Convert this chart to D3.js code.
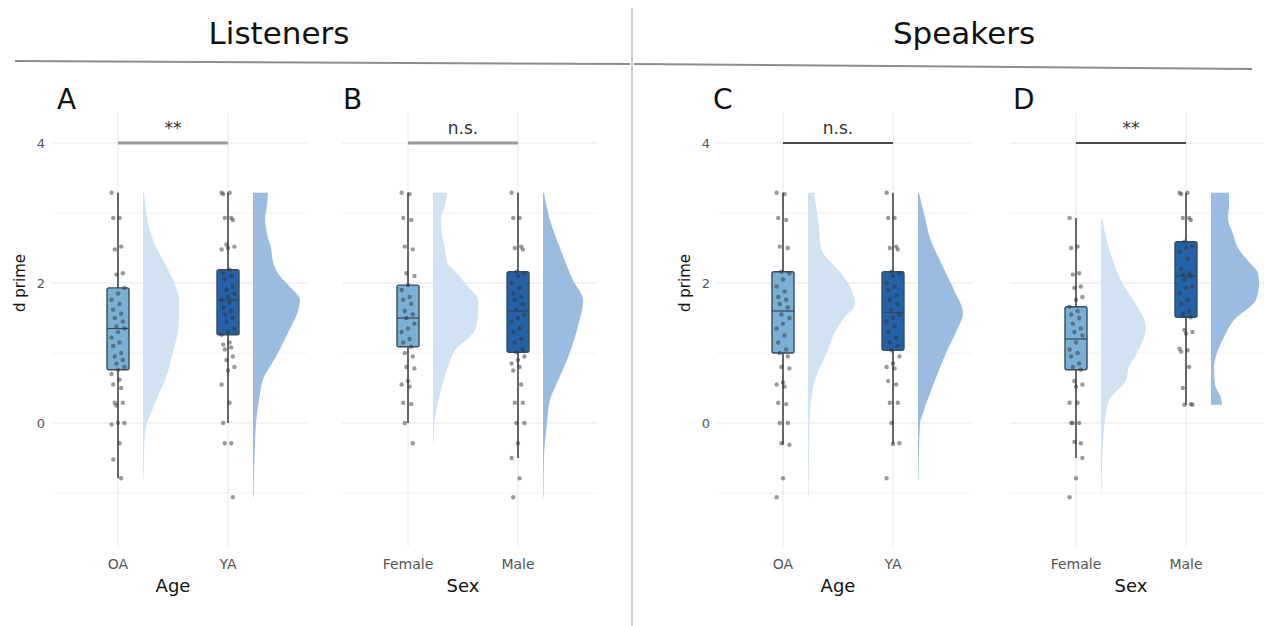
<!DOCTYPE html>
<html>
<head>
<meta charset="utf-8">
<script src="https://cdn.jsdelivr.net/npm/d3@7"></script>
<style>
  body { margin: 0; background: #fff; }
  svg { display: block; font-family: "DejaVu Sans", sans-serif; }
</style>
</head>
<body>
<svg id="chart" width="1264" height="626"></svg>
<script>
// ---- data ----
var sectionTitles = ["Listeners", "Speakers"];
var panelLetters = ["A", "B", "C", "D"];
var panelGroups = [["OA", "YA"], ["Female", "Male"], ["OA", "YA"], ["Female", "Male"]];
var axisTitles = ["Age", "Sex", "Age", "Sex"];
var sigLabels = ["**", "n.s.", "n.s.", "**"];
var yTicks = [-1, 0, 1, 2, 3, 4];
var yLabelTicks = [0, 2, 4];

// box stats, one entry per group (panel A g1, A g2, B g1, ...)
var whiskerLow  = [-0.79, 0.00, 0.00, -0.50, -0.31, -0.30, -0.50, 0.26];
var q1          = [ 0.76, 1.26, 1.09,  1.01,  1.00,  1.04,  0.76, 1.51];
var median      = [ 1.35, 1.76, 1.50,  1.60,  1.60,  1.58,  1.20, 2.10];
var q3          = [ 1.93, 2.19, 1.97,  2.16,  2.16,  2.16,  1.66, 2.59];
var whiskerHigh = [ 3.29, 3.29, 3.29,  3.29,  3.29,  3.29,  2.93, 3.29];

// individual d prime values
var pointsAOA = [3.29, 2.93, 2.93, 2.52, 2.48, 2.14, 2.12, 1.93, 1.85, 1.76, 1.7, 1.62, 1.56, 1.5, 1.45, 1.38, 1.35, 1.3,
  1.22, 1.15, 1.1, 1.0, 0.95, 0.9, 0.85, 0.8, 0.76, 0.7, 0.62, 0.55, 0.5, 0.29, 0.29, 0.25, 0, 0, -0.02, -0.29, -0.52, -0.79];
var pointsAYA = [3.29, 3.29, 3.27, 2.93, 2.93, 2.9, 2.55, 2.52, 2.5, 2.48, 2.19, 2.14, 2.1, 2.05, 1.95, 1.9, 1.85, 1.8,
  1.76, 1.72, 1.65, 1.6, 1.55, 1.5, 1.45, 1.35, 1.3, 1.26, 1.15, 1.12, 1.08, 1.05, 0.95, 0.9, 0.8, 0.75, 0.55, 0.29, 0,
  -0.29, -0.29, -1.06];
var pointsBF = [3.29, 3.27, 2.93, 2.9, 2.52, 2.48, 2.14, 2.1, 1.97, 1.9, 1.8, 1.76, 1.7, 1.6, 1.55, 1.5, 1.42, 1.35,
  1.3, 1.2, 1.15, 1.09, 1.0, 0.95, 0.8, 0.78, 0.6, 0.55, 0.52, 0.29, 0.27, 0, -0.29];
var pointsBM = [3.29, 2.93, 2.93, 2.52, 2.5, 2.48, 2.16, 2.14, 2.1, 2.0, 1.93, 1.85, 1.8, 1.76, 1.7, 1.62, 1.55, 1.5,
  1.45, 1.35, 1.3, 1.2, 1.15, 1.05, 1.01, 0.95, 0.9, 0.85, 0.8, 0.75, 0.55, 0.29, 0.29, 0, 0, -0.29, -0.5, -0.79, -1.06];
var pointsCOA = [3.29, 3.27, 2.93, 2.9, 2.52, 2.5, 2.16, 2.14, 2.05, 1.95, 1.88, 1.8, 1.76, 1.7, 1.65, 1.55, 1.5, 1.42,
  1.35, 1.25, 1.15, 1.05, 1.0, 0.95, 0.8, 0.78, 0.58, 0.55, 0.52, 0.29, 0.27, 0, 0, -0.29, -0.31, -0.79, -1.06];
var pointsCYA = [3.29, 2.93, 2.93, 2.52, 2.5, 2.48, 2.16, 2.14, 2.1, 2.0, 1.95, 1.9, 1.82, 1.76, 1.7, 1.62, 1.55, 1.5,
  1.45, 1.38, 1.3, 1.22, 1.15, 1.1, 1.04, 0.95, 0.85, 0.8, 0.78, 0.6, 0.55, 0.29, 0.29, 0, -0.29, -0.3, -0.79];
var pointsDF = [2.93, 2.52, 2.5, 2.14, 2.12, 1.95, 1.93, 1.8, 1.76, 1.66, 1.6, 1.55, 1.5, 1.42, 1.35, 1.3, 1.25, 1.15,
  1.05, 1.0, 0.95, 0.85, 0.8, 0.76, 0.6, 0.55, 0.52, 0.29, 0.29, 0, 0, 0, -0.29, -0.27, -0.5, -0.79, -1.06];
var pointsDM = [3.29, 3.29, 3.27, 2.93, 2.93, 2.9, 2.59, 2.52, 2.5, 2.45, 2.35, 2.2, 2.14, 2.12, 2.1, 2.05, 1.95, 1.93,
  1.85, 1.76, 1.7, 1.6, 1.55, 1.51, 1.33, 1.3, 1.28, 1.06, 1.04, 1.02, 0.8, 0.5, 0.27, 0.26, 0.26];
var groupPoints = [pointsAOA, pointsAYA, pointsBF, pointsBM, pointsCOA, pointsCYA, pointsDF, pointsDM];

// half-violin density profiles: [d prime, relative density]
var densAOA = [[-0.79, 0.01], [-0.5, 0.02], [-0.24, 0.03], [0, 0.08], [0.14, 0.16], [0.35, 0.28], [0.61, 0.44], [1.0, 0.6],
  [1.47, 0.72], [1.76, 0.72], [2.04, 0.6], [2.3, 0.42], [2.51, 0.26], [2.8, 0.12], [3.05, 0.06], [3.29, 0.02]];
var densAYA = [[-1.06, 0.01], [-0.5, 0.03], [-0.3, 0.04], [0, 0.06], [0.33, 0.12], [0.66, 0.22], [0.9, 0.42], [1.29, 0.7],
  [1.6, 0.9], [1.76, 0.94], [1.93, 0.76], [2.05, 0.6], [2.14, 0.5], [2.3, 0.4], [2.5, 0.36], [2.7, 0.28], [2.93, 0.24],
  [3.1, 0.28], [3.29, 0.3]];
var densBF = [[-0.29, 0.01], [0, 0.03], [0.47, 0.16], [0.8, 0.3], [1.04, 0.44], [1.33, 0.84], [1.57, 0.9], [1.76, 0.9],
  [1.95, 0.7], [2.14, 0.48], [2.3, 0.28], [2.5, 0.24], [2.7, 0.18], [2.93, 0.16], [3.1, 0.24], [3.29, 0.28]];
var densBM = [[-1.06, 0.01], [-0.5, 0.02], [0, 0.08], [0.33, 0.14], [0.57, 0.28], [0.9, 0.48], [1.33, 0.68], [1.76, 0.8],
  [2.04, 0.6], [2.5, 0.34], [2.9, 0.14], [3.29, 0.02]];
var densCOA = [[-1.06, 0.01], [-0.5, 0.02], [0, 0.03], [0.57, 0.12], [1.04, 0.4], [1.3, 0.54], [1.5, 0.72], [1.7, 0.94],
  [1.85, 0.9], [2.0, 0.8], [2.14, 0.66], [2.5, 0.26], [2.93, 0.2], [3.1, 0.16], [3.29, 0.12]];
var densCYA = [[-0.81, 0.01], [0, 0.04], [0.14, 0.1], [0.61, 0.34], [1.0, 0.56], [1.3, 0.76], [1.57, 0.9], [1.9, 0.72],
  [2.29, 0.46], [2.6, 0.26], [3.0, 0.12], [3.29, 0.02]];
var densDF = [[-1.0, 0.01], [-0.3, 0.04], [0.14, 0.1], [0.33, 0.16], [0.61, 0.5], [0.8, 0.56], [1.0, 0.72], [1.37, 0.9],
  [1.57, 0.8], [1.8, 0.6], [2.04, 0.4], [2.4, 0.2], [2.93, 0.02]];
var densDM = [[0.26, 0.22], [0.36, 0.2], [0.55, 0.08], [0.8, 0.06], [1.0, 0.12], [1.2, 0.24], [1.47, 0.46], [1.76, 0.9],
  [2.0, 0.96], [2.14, 0.94], [2.3, 0.76], [2.5, 0.54], [2.7, 0.44], [2.93, 0.34], [3.1, 0.36], [3.29, 0.36]];
var groupDens = [densAOA, densAYA, densBF, densBM, densCOA, densCYA, densDF, densDM];

// ---- layout ----
var panelRange = [[63, 283], [353, 573], [728, 948], [1021, 1241]];
var letterX = [57, 343, 713, 1013];
var showYAxis = [true, false, true, false];
var boxFill = ["#78b0d6", "#2262a8"];
var densFill = ["#cfe2f1", "#93b8de"];
var sigColor = ["#9a9a9a", "#9a9a9a", "#4a4a4a", "#4a4a4a"];
var sigWidth = [3, 3, 2, 2];

var svg = d3.select("#chart");

var y = d3.scaleLinear().domain([-1, 4]).range([493, 143]);
var w = d3.scaleLinear().domain([0, 1]).range([0, 50]);

// headers
svg.append("line").attr("x1", 632).attr("x2", 632).attr("y1", 8).attr("y2", 626)
  .attr("stroke", "#9a9a9a").attr("stroke-width", 1);
svg.append("line").attr("x1", 15).attr("y1", 61).attr("x2", 630).attr("y2", 64)
  .attr("stroke", "#8c8c8c").attr("stroke-width", 2);
svg.append("line").attr("x1", 634).attr("y1", 64).attr("x2", 1252).attr("y2", 69)
  .attr("stroke", "#8c8c8c").attr("stroke-width", 2);
svg.selectAll(".section").data(sectionTitles).enter().append("text")
  .attr("x", function (d, i) { return i === 0 ? 279 : 964; })
  .attr("y", 44)
  .attr("text-anchor", "middle")
  .style("font-size", "31px")
  .style("fill", "#111")
  .text(function (d) { return d; });

panelLetters.forEach(function (letter, p) {
  var g = svg.append("g");
  var x = d3.scalePoint().domain(panelGroups[p]).range(panelRange[p]).padding(0.5);
  var gx0 = panelRange[p][0] - 11, gx1 = panelRange[p][1] + 24;

  // grid
  g.selectAll(".hgrid").data(yTicks).enter().append("line")
    .attr("x1", gx0).attr("x2", gx1)
    .attr("y1", function (d) { return y(d); }).attr("y2", function (d) { return y(d); })
    .attr("stroke", function (d) { return d % 2 === 0 ? "#e6e6e6" : "#f2f2f2"; })
    .attr("stroke-width", 1);
  g.selectAll(".vgrid").data(panelGroups[p]).enter().append("line")
    .attr("x1", function (d) { return x(d); }).attr("x2", function (d) { return x(d); })
    .attr("y1", y(4.43)).attr("y2", y(-1.77))
    .attr("stroke", "#e8e8e8").attr("stroke-width", 1);

  // y axis
  if (showYAxis[p]) {
    g.selectAll(".ytick").data(yLabelTicks).enter().append("text")
      .attr("x", panelRange[p][0] - 18)
      .attr("y", function (d) { return y(d) + 5; })
      .attr("text-anchor", "end")
      .style("font-size", "13px").style("fill", "#555")
      .text(function (d) { return d; });
    g.append("text")
      .attr("transform", "translate(" + (panelRange[p][0] - 38) + "," + y(2) + ") rotate(-90)")
      .attr("text-anchor", "middle")
      .style("font-size", "15px").style("fill", "#111")
      .text("d prime");
  }

  // x labels
  g.selectAll(".xlab").data(panelGroups[p]).enter().append("text")
    .attr("x", function (d) { return x(d); })
    .attr("y", 569)
    .attr("text-anchor", "middle")
    .style("font-size", "14px").style("fill", "#555")
    .text(function (d) { return d; });
  g.append("text")
    .attr("x", (panelRange[p][0] + panelRange[p][1]) / 2)
    .attr("y", 592)
    .attr("text-anchor", "middle")
    .style("font-size", "18px").style("fill", "#111")
    .text(axisTitles[p]);

  // panel letter
  g.append("text").attr("x", letterX[p]).attr("y", 109)
    .style("font-size", "28px").style("fill", "#111").text(letter);

  panelGroups[p].forEach(function (name, k) {
    var idx = p * 2 + k;
    var cx = x(name);

    // density
    var area = d3.area()
      .curve(d3.curveMonotoneY)
      .y(function (d) { return y(d[0]); })
      .x0(cx + 25)
      .x1(function (d) { return cx + 25 + w(d[1]); });
    g.append("path").datum(groupDens[idx]).attr("d", area)
      .attr("fill", densFill[k]).attr("fill-opacity", 0.95);

    // whisker
    g.append("line").attr("x1", cx).attr("x2", cx)
      .attr("y1", y(whiskerLow[idx])).attr("y2", y(whiskerHigh[idx]))
      .attr("stroke", "#3a4550").attr("stroke-width", 1.6);

    // box
    g.append("rect")
      .attr("x", cx - 11).attr("width", 22)
      .attr("y", y(q3[idx])).attr("height", y(q1[idx]) - y(q3[idx]))
      .attr("rx", 2)
      .attr("fill", boxFill[k])
      .attr("stroke", "#3a4a5a").attr("stroke-width", 1.4);
    g.append("line").attr("x1", cx - 11).attr("x2", cx + 11)
      .attr("y1", y(median[idx])).attr("y2", y(median[idx]))
      .attr("stroke", "#34475a").attr("stroke-width", 1.2);

    // points
    g.selectAll(".pt" + idx).data(groupPoints[idx]).enter().append("circle")
      .attr("cx", function (d, i) { return cx + ((i * 5) % 9 - 4) * 1.6; })
      .attr("cy", function (d) { return y(d); })
      .attr("r", 2.2)
      .attr("fill", "#333")
      .attr("fill-opacity", 0.5);
  });

  // significance bar
  var xa = x(panelGroups[p][0]), xb = x(panelGroups[p][1]);
  g.append("line").attr("x1", xa).attr("x2", xb).attr("y1", y(4)).attr("y2", y(4))
    .attr("stroke", sigColor[p]).attr("stroke-width", sigWidth[p]);
  g.append("text").attr("x", (xa + xb) / 2).attr("y", 134)
    .attr("text-anchor", "middle")
    .style("font-size", "17px").style("fill", "#333")
    .text(sigLabels[p]);
});
</script>
</body>
</html>
